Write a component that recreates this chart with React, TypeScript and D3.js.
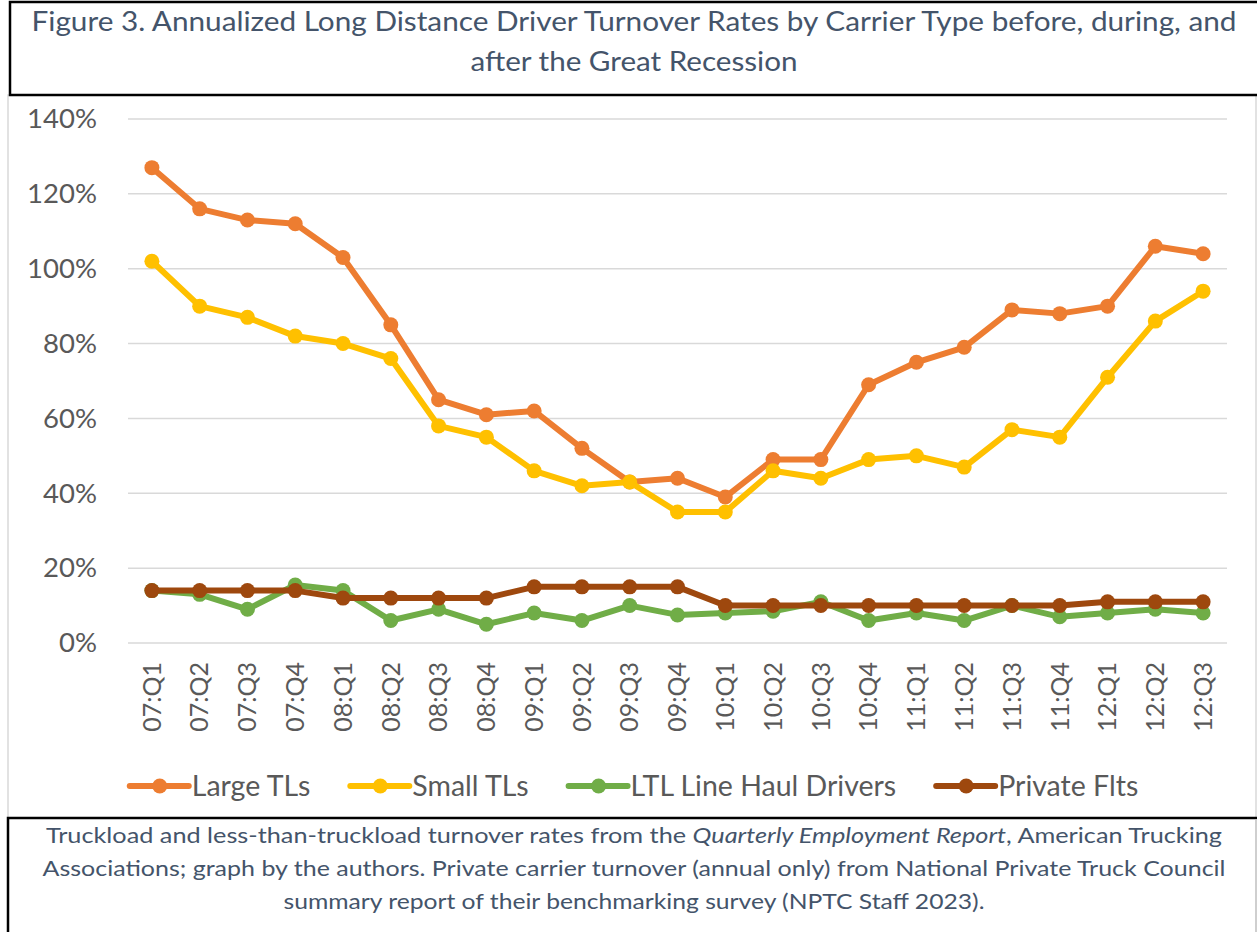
import { useEffect, useRef } from 'react'
import * as d3 from 'd3'

// Quarters on the x axis
const quarters = [
  '07:Q1', '07:Q2', '07:Q3', '07:Q4',
  '08:Q1', '08:Q2', '08:Q3', '08:Q4',
  '09:Q1', '09:Q2', '09:Q3', '09:Q4',
  '10:Q1', '10:Q2', '10:Q3', '10:Q4',
  '11:Q1', '11:Q2', '11:Q3', '11:Q4',
  '12:Q1', '12:Q2', '12:Q3',
]

// Turnover rates (%)
const largeTLs = [127, 116, 113, 112, 103, 85, 65, 61, 62, 52, 43, 44, 39, 49, 49, 69, 75, 79, 89, 88, 90, 106, 104]
const smallTLs = [102, 90, 87, 82, 80, 76, 58, 55, 46, 42, 43, 35, 35, 46, 44, 49, 50, 47, 57, 55, 71, 86, 94]
const ltlLineHaul = [14, 13, 9, 15.5, 14, 6, 9, 5, 8, 6, 10, 7.5, 8, 8.5, 11, 6, 8, 6, 10, 7, 8, 9, 8]
const privateFlts = [14, 14, 14, 14, 12, 12, 12, 12, 15, 15, 15, 15, 10, 10, 10, 10, 10, 10, 10, 10, 11, 11, 11]

const yTicks = [0, 20, 40, 60, 80, 100, 120, 140]

const seriesNames = ['Large TLs', 'Small TLs', 'LTL Line Haul Drivers', 'Private Flts']
const seriesValues = [largeTLs, smallTLs, ltlLineHaul, privateFlts]
const seriesColors = ['#ED7D31', '#FFC000', '#70AD47', '#9E480E']

const titleLines = [
  'Figure 3. Annualized Long Distance Driver Turnover Rates by Carrier Type before, during, and',
  'after the Great Recession',
]

const FONT = 'Lato, "Open Sans", sans-serif'

const App = () => {
  const svgRef = useRef<SVGSVGElement | null>(null)
  const W = 1257
  const H = 932
  const plot = { left: 128, right: 1227, top: 119, bottom: 643 }

  useEffect(() => {
    const svg = d3.select(svgRef.current)
    svg.selectAll('*').remove()

    svg.append('rect').attr('width', W).attr('height', H).attr('fill', '#FFF')

    // Chart area frame (light grey)
    svg
      .append('rect')
      .attr('x', 8)
      .attr('y', 95)
      .attr('width', 1248)
      .attr('height', 900)
      .attr('fill', 'none')
      .attr('stroke', '#D9D9D9')
      .attr('stroke-width', 1.5)

    // Title box
    svg
      .append('rect')
      .attr('x', 10)
      .attr('y', 2)
      .attr('width', W + 10)
      .attr('height', 93)
      .attr('fill', '#FFF')
      .attr('stroke', '#000')
      .attr('stroke-width', 2.5)
    // widths of the two title lines in the original (Calibri) layout
    const titleWidths = [1205, 327]
    titleLines.forEach((t, i) => {
      svg
        .append('text')
        .attr('x', 634)
        .attr('y', 31 + i * 40)
        .attr('text-anchor', 'middle')
        .attr('textLength', titleWidths[i])
        .attr('lengthAdjust', 'spacingAndGlyphs')
        .style('font-family', FONT)
        .style('font-size', '27px')
        .style('fill', '#44546A')
        .text(t)
    })

    // Scales
    const x = d3
      .scaleBand()
      .domain(quarters)
      .range([plot.left, plot.right])
    const y = d3
      .scaleLinear()
      .domain([0, 140])
      .range([plot.bottom, plot.top])

    // Gridlines
    svg
      .append('g')
      .selectAll('line')
      .data(yTicks)
      .enter()
      .append('line')
      .attr('x1', plot.left)
      .attr('x2', plot.right)
      .attr('y1', (d) => y(d))
      .attr('y2', (d) => y(d))
      .attr('stroke', '#D9D9D9')
      .attr('stroke-width', 1.5)

    // Y axis labels
    const yAxis = d3
      .axisLeft(y)
      .tickValues(yTicks)
      .tickFormat((d) => `${d}%`)
      .tickSize(0)
      .tickPadding(31)
    const yAxisGroup = svg
      .append('g')
      .attr('transform', `translate(${plot.left},0)`)
      .call(yAxis)
    yAxisGroup.select('.domain').remove()
    yAxisGroup
      .selectAll('text')
      .style('font-family', FONT)
      .style('font-size', '27.5px')
      .attr('fill', '#595959')

    // X axis labels, rotated
    svg
      .append('g')
      .selectAll('text')
      .data(quarters)
      .enter()
      .append('text')
      .attr('transform', (d) => `translate(${(x(d) as number) + x.bandwidth() / 2},662) rotate(-90)`)
      .attr('text-anchor', 'end')
      .attr('dy', '0.35em')
      .style('font-family', FONT)
      .style('font-size', '25px')
      .style('fill', '#595959')
      .text((d) => d)

    // Lines + markers
    const line = d3
      .line<number>()
      .x((_, i) => (x(quarters[i]) as number) + x.bandwidth() / 2)
      .y((d) => y(d))

    seriesValues.forEach((vals, s) => {
      const g = svg.append('g')
      g.append('path')
        .attr('d', line(vals))
        .attr('fill', 'none')
        .attr('stroke', seriesColors[s])
        .attr('stroke-width', 6)
        .attr('stroke-linejoin', 'round')
        .attr('stroke-linecap', 'round')
      g.selectAll('circle')
        .data(vals)
        .enter()
        .append('circle')
        .attr('cx', (_, i) => (x(quarters[i]) as number) + x.bandwidth() / 2)
        .attr('cy', (d) => y(d))
        .attr('r', 7.5)
        .attr('fill', seriesColors[s])
    })

    // Legend
    const legend = svg.append('g')
    const items = seriesNames.map((name, s) => {
      const item = legend.append('g')
      item
        .append('line')
        .attr('x1', 0)
        .attr('x2', 59)
        .attr('y1', 0)
        .attr('y2', 0)
        .attr('stroke', seriesColors[s])
        .attr('stroke-width', 6)
        .attr('stroke-linecap', 'round')
      item.append('circle').attr('cx', 30).attr('cy', 0).attr('r', 7.5).attr('fill', seriesColors[s])
      const txt = item
        .append('text')
        .attr('x', 62)
        .attr('y', 10)
        .style('font-family', FONT)
        .style('font-size', '28.5px')
        .style('fill', '#595959')
        .text(name)
      const w = 62 + (txt.node() as SVGTextElement).getComputedTextLength()
      return { item, w }
    })
    const gap = 40
    const total = d3.sum(items, (d) => d.w) + gap * (items.length - 1)
    let lx = 634 - total / 2
    items.forEach(({ item, w }) => {
      item.attr('transform', `translate(${lx},786)`)
      lx += w + gap
    })

    // Footer box
    svg
      .append('rect')
      .attr('x', 8)
      .attr('y', 818)
      .attr('width', W + 10)
      .attr('height', 200)
      .attr('fill', '#FFF')
      .attr('stroke', '#000')
      .attr('stroke-width', 2.5)
    svg
      .append('line')
      .attr('x1', 1256)
      .attr('x2', 1256)
      .attr('y1', 819)
      .attr('y2', H)
      .attr('stroke', '#BFBFBF')
      .attr('stroke-width', 1.5)

    const footStyle = (t: d3.Selection<SVGTextElement, unknown, null, undefined>, len: number) =>
      t
        .attr('x', 634)
        .attr('text-anchor', 'middle')
        .attr('textLength', len)
        .attr('lengthAdjust', 'spacingAndGlyphs')
        .style('font-family', FONT)
        .style('font-size', '22px')
        .style('fill', '#44546A')
    const f1 = svg.append('text').attr('y', 843).call(footStyle, 1176)
    f1.append('tspan').text('Truckload and less-than-truckload turnover rates from the ')
    f1.append('tspan').style('font-style', 'italic').text('Quarterly Employment Report')
    f1.append('tspan').text(', American Trucking')
    svg
      .append('text')
      .attr('y', 876)
      .call(footStyle, 1183)
      .text('Associations; graph by the authors. Private carrier turnover (annual only) from National Private Truck Council')
    svg
      .append('text')
      .attr('y', 909)
      .call(footStyle, 701)
      .text('summary report of their benchmarking survey (NPTC Staff 2023).')
  }, [])

  return (
    <svg
      ref={svgRef}
      width={W}
      height={H}
      style={{ position: 'absolute', left: 0, top: 0, display: 'block' }}
    />
  )
}

export default App
